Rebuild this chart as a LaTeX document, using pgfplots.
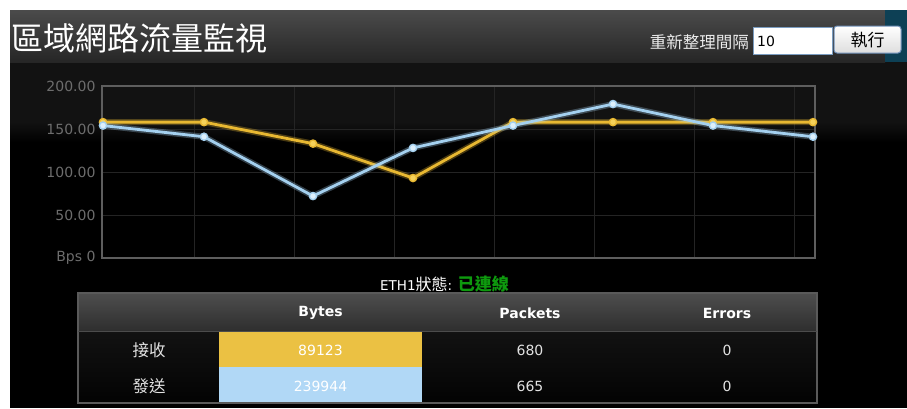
\documentclass[border=0pt]{standalone}
\usepackage{pgfplots}
\pgfplotsset{compat=1.18}
\usepackage{fontspec}
\setmainfont{DejaVu Sans}
\newfontfamily\cjk{Noto Sans CJK TC}
\definecolor{hdrTop}{HTML}{4B4B4B}
\definecolor{hdrBot}{HTML}{262626}
\definecolor{tealc}{HTML}{0D4055}
\definecolor{bodyTop}{HTML}{121212}
\definecolor{inBorder}{HTML}{7A9CC0}
\definecolor{btnBorder}{HTML}{6F8FB8}
\definecolor{btnBot}{HTML}{DEDEDE}
\definecolor{framec}{HTML}{5E5E5E}
\definecolor{gridc}{HTML}{242424}
\definecolor{tickc}{HTML}{6D6D6D}
\definecolor{orangeL}{HTML}{E8B832}
\definecolor{orangeM}{HTML}{F6D25A}
\definecolor{blueL}{HTML}{A4D0EF}
\definecolor{blueM}{HTML}{DDF0FC}
\definecolor{thTop}{HTML}{4E4E4E}
\definecolor{thBot}{HTML}{2E2E2E}
\definecolor{rowTop}{HTML}{121212}
\definecolor{rowBot}{HTML}{030303}
\definecolor{tborder}{HTML}{5A5A5A}
\definecolor{bytesO}{HTML}{EBC143}
\definecolor{bytesB}{HTML}{B1D8F6}
\definecolor{cellTxt}{HTML}{E2E2E2}
\definecolor{statusGreen}{HTML}{0E9A0E}
\begin{document}
\begin{tikzpicture}[x=1pt,y=-1pt]
\fill[white] (0,0) rectangle (907,408);
\useasboundingbox (0,0) rectangle (907,408);
% body background
\fill[black] (10,62) rectangle (907,408);
\fill[bodyTop] (10,62) rectangle (907,122);
\shade[top color=bodyTop, bottom color=black] (10,122) rectangle (907,142);
% header
\shade[top color=hdrTop, bottom color=hdrBot] (10,10) rectangle (885,62);
\fill[tealc] (885,10) rectangle (907,62);
\node[anchor=west, inner sep=0pt, text=white, font=\cjk\fontsize{32}{32}\selectfont] at (11,38) {區域網路流量監視};
\node[anchor=east, inner sep=0pt, text=white!92!black, font=\cjk\fontsize{16.5}{17}\selectfont] at (749,42) {重新整理間隔};
\draw[draw=inBorder, fill=white, line width=1pt] (753,27) rectangle (832,54);
\node[anchor=west, inner sep=0pt, text=black, font=\fontsize{14}{14}\selectfont] at (757,41) {10};
\shade[top color=white, bottom color=btnBot, draw=btnBorder, line width=1pt, rounded corners=3pt] (834,26) rectangle (901,53);
\node[inner sep=0pt, text=black, font=\cjk\fontsize{17}{17}\selectfont] at (867.5,40) {執行};
% status line
\node[anchor=west, inner sep=0pt, text=white, font=\fontsize{13.5}{14}\selectfont] at (380,284) {ETH1{\cjk\fontsize{16}{16}\selectfont 狀態}: {\cjk\bfseries\fontsize{17}{17}\selectfont\color{statusGreen}已連線}};
% table
\shade[top color=thTop, bottom color=thBot] (78,293) rectangle (817,331);
\shade[top color=rowTop, bottom color=rowBot] (78,331) rectangle (817,403);
\fill[bytesO] (219,331) rectangle (422,367);
\fill[bytesB] (219,367) rectangle (422,403);
\draw[tborder, line width=1.3pt] (78,293) -- (78,403) -- (817,403) -- (817,293) -- cycle;
\draw[black!70, line width=1pt] (78,331) -- (817,331);
\begin{scope}[every node/.style={inner sep=0pt, font=\bfseries\fontsize{14}{14}\selectfont, text=white}]
\node at (320.5,313) {Bytes};
\node at (530,313) {Packets};
\node at (727,313) {Errors};
\end{scope}
\begin{scope}[every node/.style={inner sep=0pt, font=\fontsize{14}{14}\selectfont, text=cellTxt}]
\node[font=\cjk\fontsize{16.5}{17}\selectfont] at (149,350) {接收};
\node[font=\cjk\fontsize{16.5}{17}\selectfont] at (149,386) {發送};
\node[text=white] at (320.5,350) {89123};
\node[text=white] at (320.5,386) {239944};
\node at (530,350) {680};
\node at (530,386) {665};
\node at (727,350) {0};
\node at (727,386) {0};
\end{scope}
% chart
\begin{axis}[at={(102pt,-258pt)}, anchor=south west, scale only axis,
  width=713pt, height=172pt,
  xmin=102, xmax=815, ymin=0, ymax=200,
  xtick={194,294,394,494,594,694,794}, xticklabels={},
  ytick={0,50,100,150,200},
  yticklabels={Bps 0,50.00,100.00,150.00,200.00},
  grid=major, major grid style={draw=gridc, line width=1pt},
  axis line style={draw=framec, line width=2.6pt},
  major tick length=0pt,
  yticklabel style={text=tickc, font=\fontsize{14}{14}\selectfont, xshift=-3pt},
  clip=false]
\addplot[color=orangeL, opacity=0.3, line width=6pt, forget plot] coordinates {(103,158)(204,158)(313,133)(413,93)(513,158)(613,158)(713,158)(813,158)};
\addplot[color=orangeL, line width=2.8pt, mark=*, mark size=3.6pt, mark options={fill=orangeM, draw=orangeL, line width=1.4pt}] coordinates {(103,158)(204,158)(313,133)(413,93)(513,158)(613,158)(713,158)(813,158)};
\addplot[color=blueL, opacity=0.3, line width=6pt, forget plot] coordinates {(103,154)(204,141)(313,72)(413,128)(513,154)(613,179)(713,154)(813,141)};
\addplot[color=blueL, line width=2.8pt, mark=*, mark size=3.6pt, mark options={fill=blueM, draw=blueL, line width=1.4pt}] coordinates {(103,154)(204,141)(313,72)(413,128)(513,154)(613,179)(713,154)(813,141)};
\end{axis}
\end{tikzpicture}
\end{document}
